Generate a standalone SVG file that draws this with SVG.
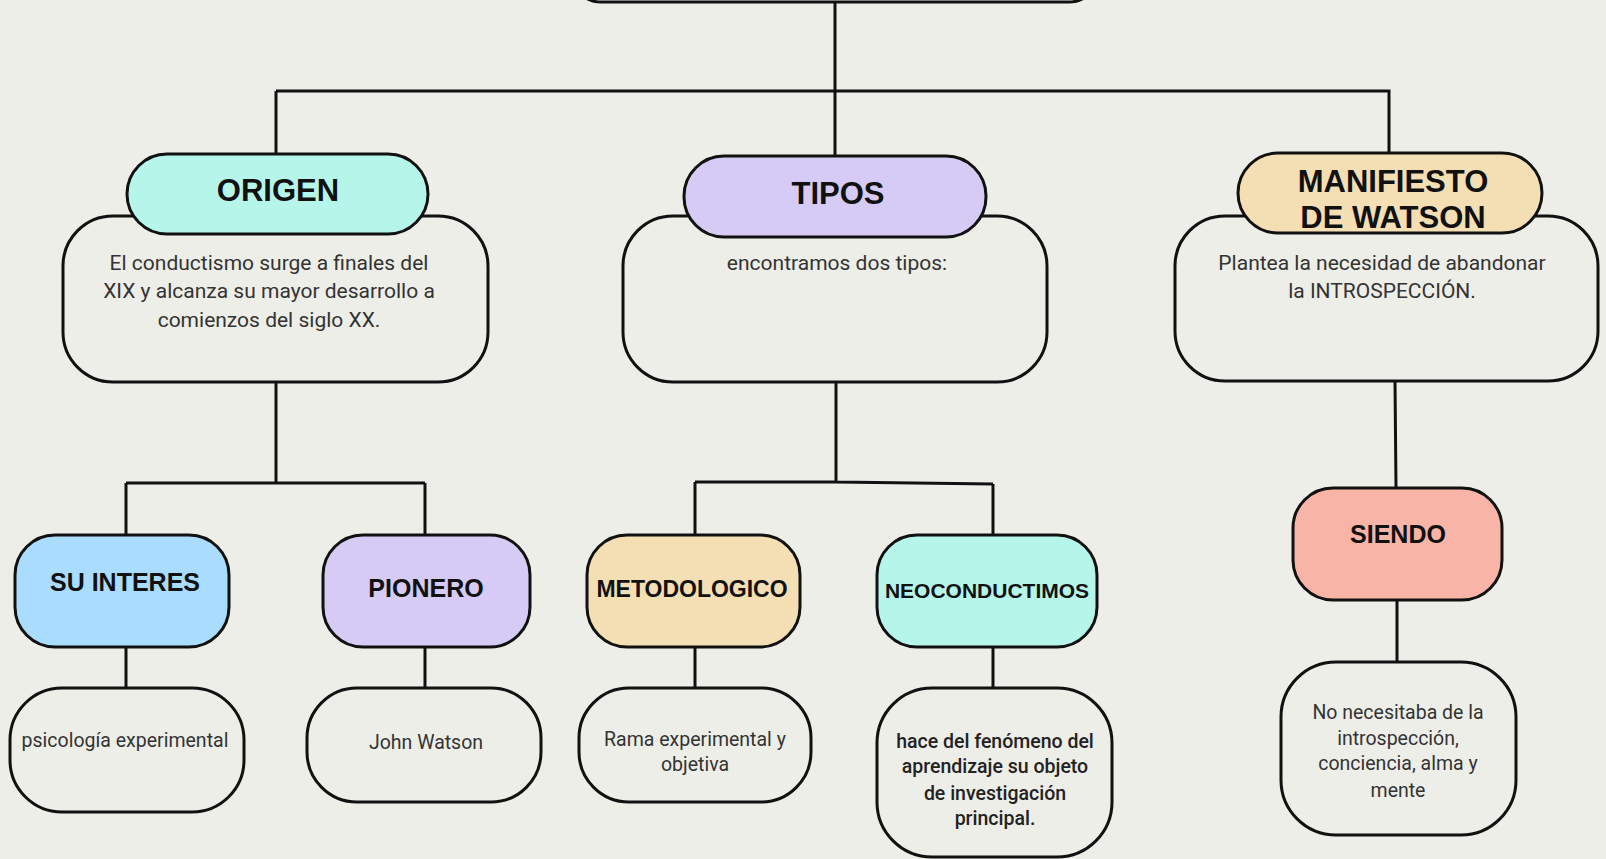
<svg xmlns="http://www.w3.org/2000/svg" width="1606" height="859" viewBox="0 0 1606 859">
<style>
.bg{fill:#eeeee8}
.box{stroke:#111;stroke-width:3}
.plain{fill:#eeeee8}
.mint{fill:#b6f6ea}
.lav{fill:#d5cbf5}
.tan{fill:#f4dfb5}
.blue{fill:#aadcfd}
.salmon{fill:#f8b4a7}
.h{font-family:"Liberation Sans",Arial,sans-serif;font-weight:bold;fill:#111;text-anchor:middle}
.t{font-family:Roboto,"Liberation Sans",sans-serif;fill:#333;text-anchor:middle}
.b21{font-size:21px}
.b19{font-size:19.5px}
.med{font-weight:500;fill:#222}
#connectors path{fill:none;stroke:#111;stroke-width:3}
</style>
<rect class="bg" x="0" y="0" width="1606" height="859"/>
<g id="connectors">
<path d="M835 0V156"/>
<path d="M276 91H1389V153"/>
<path d="M276 91V154"/>
<path d="M276 382V483M126 483H425M126 483V535M425 483V535"/>
<path d="M126 647V688M425 647V688"/>
<path d="M836 382V482M695 482L836 482L993 484M695 482V536M993 484V536"/>
<path d="M695 647V688M993 647V688"/>
<path d="M1395 381L1396 488M1397 600V662"/>
</g>
<g id="root"><rect class="box plain" x="571" y="-80" width="528" height="82" rx="30"/></g>
<g id="origen">
<rect class="box plain" x="63" y="216" width="425" height="166" rx="50"/>
<rect class="box mint" x="127" y="154" width="301" height="80" rx="40"/>
<text class="h" x="278" y="201" font-size="31">ORIGEN</text>
<text class="t b21" x="269"><tspan x="269" y="270">El conductismo surge a finales del</tspan><tspan x="269" y="298">XIX y alcanza su mayor desarrollo a</tspan><tspan x="269" y="327">comienzos del siglo XX.</tspan></text>
</g>
<g id="tipos">
<rect class="box plain" x="623" y="216" width="424" height="166" rx="50"/>
<rect class="box lav" x="684" y="156" width="302" height="81" rx="40"/>
<text class="h" x="838" y="204" font-size="31">TIPOS</text>
<text class="t b21" x="837" y="270">encontramos dos tipos:</text>
</g>
<g id="manifiesto">
<rect class="box plain" x="1175" y="216" width="423" height="165" rx="50"/>
<rect class="box tan" x="1238" y="153" width="304" height="80" rx="40"/>
<text class="h" font-size="31"><tspan x="1393" y="192">MANIFIESTO</tspan><tspan x="1393" y="228">DE WATSON</tspan></text>
<text class="t b21"><tspan x="1382" y="270">Plantea la necesidad de abandonar</tspan><tspan x="1382" y="298">la INTROSPECCIÓN.</tspan></text>
</g>
<g id="su-interes">
<rect class="box blue" x="15" y="535" width="214" height="112" rx="40"/>
<text class="h" x="125" y="591" font-size="25">SU INTERES</text>
</g>
<g id="pionero">
<rect class="box lav" x="323" y="535" width="207" height="112" rx="40"/>
<text class="h" x="426" y="597" font-size="25">PIONERO</text>
</g>
<g id="metodologico">
<rect class="box tan" x="587" y="535" width="213" height="112" rx="40"/>
<text class="h" x="692" y="597" font-size="23">METODOLOGICO</text>
</g>
<g id="neoconductimos">
<rect class="box mint" x="877" y="535" width="220" height="112" rx="40"/>
<text class="h" x="987" y="598" font-size="21">NEOCONDUCTIMOS</text>
</g>
<g id="siendo">
<rect class="box salmon" x="1293" y="488" width="209" height="112" rx="40"/>
<text class="h" x="1398" y="543" font-size="25">SIENDO</text>
</g>
<g id="psicologia">
<rect class="box plain" x="10" y="688" width="234" height="124" rx="52"/>
<text class="t b19" x="125" y="747">psicología experimental</text>
</g>
<g id="john-watson">
<rect class="box plain" x="307" y="688" width="234" height="114" rx="50"/>
<text class="t b19" x="426" y="749">John Watson</text>
</g>
<g id="rama">
<rect class="box plain" x="579" y="688" width="232" height="114" rx="50"/>
<text class="t b19"><tspan x="695" y="746">Rama experimental y</tspan><tspan x="695" y="771">objetiva</tspan></text>
</g>
<g id="hace">
<rect class="box plain" x="877" y="688" width="235" height="169" rx="55"/>
<text class="t b19 med"><tspan x="995" y="748">hace del fenómeno del</tspan><tspan x="995" y="773">aprendizaje su objeto</tspan><tspan x="995" y="800">de investigación</tspan><tspan x="995" y="825">principal.</tspan></text>
</g>
<g id="no-necesitaba">
<rect class="box plain" x="1281" y="662" width="235" height="173" rx="55"/>
<text class="t b19"><tspan x="1398" y="719">No necesitaba de la</tspan><tspan x="1398" y="745">introspección,</tspan><tspan x="1398" y="770">conciencia, alma y</tspan><tspan x="1398" y="797">mente</tspan></text>
</g>
</svg>
